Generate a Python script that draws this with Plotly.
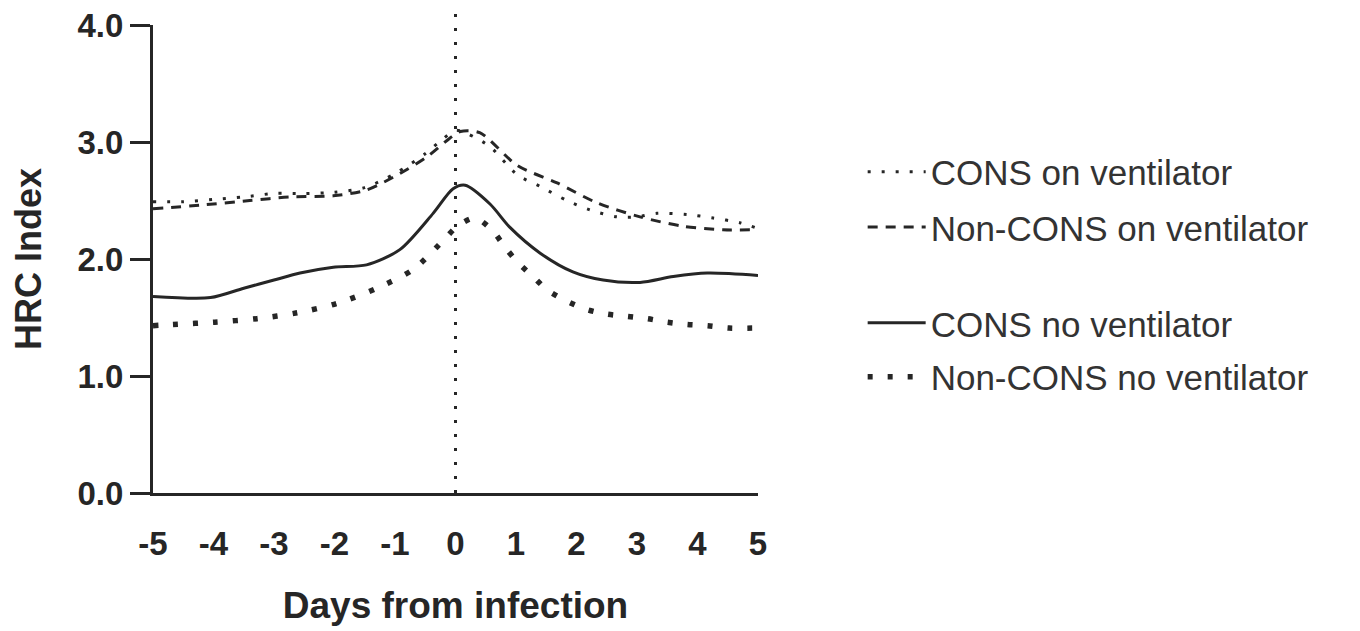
import plotly.graph_objects as go

# ---- data ----
cons_vent_x = [-5, -4.5, -4, -3.5, -3, -2.5, -2, -1.5, -1, -0.5, -0.2, 0, 0.2, 0.57, 1.02, 1.4, 1.84, 2.22, 2.67, 3.0, 3.33, 3.83, 4.26, 4.7, 5]
cons_vent_y = [2.49, 2.49, 2.51, 2.53, 2.56, 2.56, 2.57, 2.61, 2.73, 2.90, 3.03, 3.10, 3.07, 2.96, 2.72, 2.62, 2.50, 2.42, 2.36, 2.36, 2.39, 2.38, 2.35, 2.31, 2.26]

noncons_vent_x = [-5, -4.22, -3.4, -2.74, -2.02, -1.47, -0.92, -0.48, -0.1, 0.08, 0.4, 1.02, 1.68, 2.34, 3.05, 3.76, 4.42, 5]
noncons_vent_y = [2.43, 2.46, 2.50, 2.53, 2.54, 2.59, 2.73, 2.87, 3.03, 3.09, 3.08, 2.80, 2.65, 2.48, 2.36, 2.28, 2.25, 2.25]

cons_novent_x = [-5, -4.05, -3.5, -3.0, -2.57, -2.02, -1.47, -0.92, -0.37, -0.04, 0.16, 0.57, 0.90, 1.40, 1.94, 2.44, 3.05, 3.60, 4.16, 5]
cons_novent_y = [1.68, 1.67, 1.75, 1.82, 1.88, 1.93, 1.95, 2.08, 2.39, 2.60, 2.63, 2.47, 2.27, 2.05, 1.89, 1.82, 1.80, 1.85, 1.88, 1.86]

noncons_novent_x = [-5, -4.67, -3.98, -3.28, -2.62, -1.96, -1.30, -0.70, -0.2, 0.03, 0.32, 0.60, 0.82, 1.03, 1.28, 1.53, 1.84, 2.16, 2.49, 2.83, 3.17, 3.50, 3.83, 4.17, 4.52, 5]
noncons_novent_y = [1.43, 1.44, 1.46, 1.49, 1.54, 1.62, 1.75, 1.91, 2.16, 2.28, 2.35, 2.25, 2.10, 1.97, 1.85, 1.73, 1.64, 1.57, 1.53, 1.51, 1.49, 1.46, 1.44, 1.43, 1.41, 1.41]

series_names = ["CONS on ventilator", "Non-CONS on ventilator", "CONS no ventilator", "Non-CONS no ventilator"]
x_ticks = [-5, -4, -3, -2, -1, 0, 1, 2, 3, 4, 5]
y_ticks = [0, 1, 2, 3, 4]

INK = "#262626"
FONT = "Liberation Sans, Arial, sans-serif"

fig = go.Figure()

styles = [
    dict(width=3, dash="3px,11px"),
    dict(width=3, dash="10px,8px"),
    dict(width=3, dash="solid"),
    dict(width=5.5, dash="5px,15px"),
]
data = [
    (cons_vent_x, cons_vent_y),
    (noncons_vent_x, noncons_vent_y),
    (cons_novent_x, cons_novent_y),
    (noncons_novent_x, noncons_novent_y),
]
legend_ids = ["legend", "legend2", "legend3", "legend4"]

for (xs, ys), name, st, lg in zip(data, series_names, styles, legend_ids):
    fig.add_trace(go.Scatter(
        x=xs, y=ys, name=name, mode="lines",
        line=dict(color=INK, width=st["width"], dash=st["dash"], shape="spline", smoothing=0.8),
        legend=lg, showlegend=True,
    ))

# vertical dotted line at infection day 0
fig.add_shape(type="line", xref="x", yref="paper", x0=0, x1=0, y0=0, y1=1.025,
              line=dict(color=INK, width=3, dash="3px,11px"), layer="above")

legend_y = [0.686, 0.568, 0.363, 0.248]
legend_common = dict(
    x=1.173, xanchor="left", yanchor="middle",
    font=dict(family=FONT, size=35, color="#333333"),
    bgcolor="rgba(0,0,0,0)", itemwidth=58, tracegroupgap=0,
)

layout_legends = {}
for lg, ly in zip(legend_ids, legend_y):
    layout_legends[lg] = dict(y=ly, **legend_common)

# page body has an 8px margin, so the figure is 8px smaller on each axis
fig.update_layout(
    width=1352, height=623,
    margin=dict(l=145, r=602, t=17, b=138, autoexpand=False),
    paper_bgcolor="white", plot_bgcolor="white",
    font=dict(family=FONT, color=INK),
    xaxis=dict(
        range=[-5, 5], tickvals=x_ticks, ticktext=[str(v) for v in x_ticks],
        showline=True, linewidth=3, linecolor=INK, showgrid=False, zeroline=False,
        automargin=False, ticklabeloverflow="allow",
        ticks="outside", ticklen=19, tickcolor="rgba(0,0,0,0)",
        tickfont=dict(family=FONT, size=33, color=INK, weight="bold"),
        title=dict(text="<b>Days from infection</b>", font=dict(family=FONT, size=37, color=INK), standoff=32),
    ),
    yaxis=dict(
        range=[0, 4], tickvals=y_ticks, ticktext=["%.1f" % v for v in y_ticks],
        showline=True, linewidth=3, linecolor=INK, showgrid=False, zeroline=False,
        automargin=False, ticklabeloverflow="allow",
        ticks="outside", ticklen=20, tickwidth=3, tickcolor=INK,
        tickfont=dict(family=FONT, size=33, color=INK, weight="bold"),
        title=dict(text="<b>HRC Index</b>", font=dict(family=FONT, size=36, color=INK), standoff=30),
    ),
    **layout_legends,
)

fig.write_html("out.html")
